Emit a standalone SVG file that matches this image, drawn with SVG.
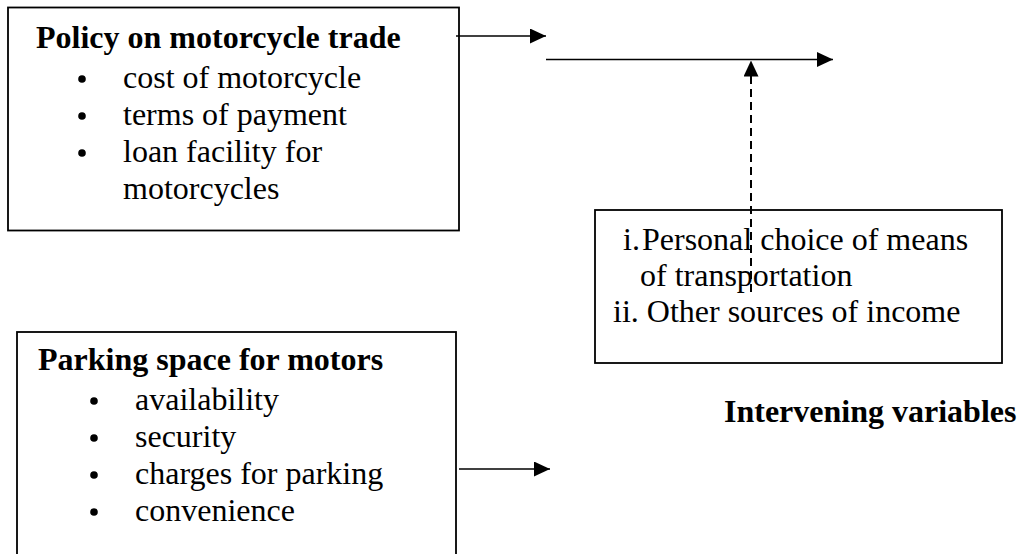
<svg xmlns="http://www.w3.org/2000/svg" width="1018" height="554" viewBox="0 0 1018 554">
<defs>
<style>
text{font-family:"Liberation Serif","Times New Roman",serif;font-size:32px;fill:#000}
.b{font-weight:bold}
.box{fill:#fff;stroke:#000;stroke-width:1.8}
.ln{stroke:#000;stroke-width:1.6;fill:none}
.dash{stroke:#000;stroke-width:2;stroke-dasharray:8 5;fill:none}
.dot{fill:#000}
</style>
<marker id="ah" markerUnits="userSpaceOnUse" markerWidth="16" markerHeight="15" refX="16" refY="7.5" orient="auto">
<path d="M0,0 L16,7.5 L0,15 Z" fill="#000"/>
</marker>
</defs>
<rect width="1018" height="554" fill="#fff"/>
<g id="policy">
<rect class="box" x="8" y="7.5" width="451" height="223"/>
<text class="b" x="36" y="48">Policy on motorcycle trade</text>
<circle class="dot" cx="82" cy="79" r="3.8"/>
<text x="123" y="88">cost of motorcycle</text>
<circle class="dot" cx="82" cy="116" r="3.8"/>
<text x="123" y="125">terms of payment</text>
<circle class="dot" cx="82" cy="153" r="3.8"/>
<text x="123" y="162">loan facility for</text>
<text x="123" y="199">motorcycles</text>
</g>
<g id="parking">
<rect class="box" x="17" y="332" width="439" height="240"/>
<text class="b" x="38" y="370">Parking space for motors</text>
<circle class="dot" cx="94" cy="401" r="3.8"/>
<text x="135" y="410">availability</text>
<circle class="dot" cx="94" cy="438" r="3.8"/>
<text x="135" y="447">security</text>
<circle class="dot" cx="94" cy="475" r="3.8"/>
<text x="135" y="484">charges for parking</text>
<circle class="dot" cx="94" cy="512" r="3.8"/>
<text x="135" y="521">convenience</text>
</g>
<g id="intervening">
<rect class="box" x="595" y="210" width="407" height="153"/>
<text x="623" y="250">i.<tspan x="642">Personal choice of means</tspan></text>
<text x="640" y="286">of transportation</text>
<text x="613" y="322">ii. Other sources of income</text>
</g>
<g id="label">
<text class="b" x="724" y="422">Intervening variables</text>
</g>
<g id="connectors">
<line class="ln" x1="456" y1="36" x2="546" y2="36" marker-end="url(#ah)"/>
<line class="ln" x1="546" y1="59.5" x2="833" y2="59.5" marker-end="url(#ah)"/>
<line class="dash" x1="751" y1="292" x2="751" y2="60.5" marker-end="url(#ah)"/>
<line class="ln" x1="459" y1="469" x2="550" y2="469" marker-end="url(#ah)"/>
</g>
</svg>
